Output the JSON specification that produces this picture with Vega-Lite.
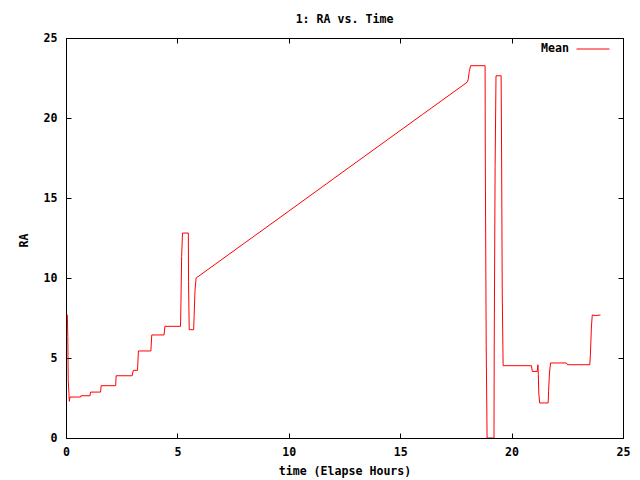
{
  "$schema": "https://vega.github.io/schema/vega-lite/v6.json",
  "width": 557,
  "height": 400,
  "autosize": "none",
  "padding": {"left": 66, "top": 38, "right": 17, "bottom": 42},
  "background": "white",
  "title": {"text": "1: RA vs. Time", "font": "DejaVu Sans Mono", "fontSize": 11.6, "fontWeight": "bold", "color": "black", "offset": 6, "anchor": "middle"},
  "config": {
    "view": {"stroke": "black", "strokeWidth": 1},
    "axis": {"domainColor": "black", "tickColor": "black", "labelColor": "black", "titleColor": "black", "labelFont": "DejaVu Sans Mono", "labelFontSize": 11.6, "labelFontWeight": "bold", "titleFont": "DejaVu Sans Mono", "titleFontSize": 11.6, "titleFontWeight": "bold", "grid": false, "tickSize": -5, "domainWidth": 1, "tickWidth": 1}
  },
  "data": {"values": [
    {"t": 0.06, "v": 7.71, "s": "Mean"},
    {"t": 0.08, "v": 6.35, "s": "Mean"},
    {"t": 0.10, "v": 3.64, "s": "Mean"},
    {"t": 0.15, "v": 2.29, "s": "Mean"},
    {"t": 0.18, "v": 2.56, "s": "Mean"},
    {"t": 0.66, "v": 2.56, "s": "Mean"},
    {"t": 0.67, "v": 2.64, "s": "Mean"},
    {"t": 1.08, "v": 2.64, "s": "Mean"},
    {"t": 1.10, "v": 2.87, "s": "Mean"},
    {"t": 1.55, "v": 2.87, "s": "Mean"},
    {"t": 1.58, "v": 3.27, "s": "Mean"},
    {"t": 2.23, "v": 3.27, "s": "Mean"},
    {"t": 2.25, "v": 3.89, "s": "Mean"},
    {"t": 2.97, "v": 3.89, "s": "Mean"},
    {"t": 3.02, "v": 4.23, "s": "Mean"},
    {"t": 3.21, "v": 4.23, "s": "Mean"},
    {"t": 3.25, "v": 5.44, "s": "Mean"},
    {"t": 3.81, "v": 5.44, "s": "Mean"},
    {"t": 3.85, "v": 6.44, "s": "Mean"},
    {"t": 4.40, "v": 6.44, "s": "Mean"},
    {"t": 4.44, "v": 6.98, "s": "Mean"},
    {"t": 5.14, "v": 6.98, "s": "Mean"},
    {"t": 5.16, "v": 8.48, "s": "Mean"},
    {"t": 5.19, "v": 11.35, "s": "Mean"},
    {"t": 5.23, "v": 12.81, "s": "Mean"},
    {"t": 5.49, "v": 12.81, "s": "Mean"},
    {"t": 5.50, "v": 9.79, "s": "Mean"},
    {"t": 5.53, "v": 6.77, "s": "Mean"},
    {"t": 5.73, "v": 6.77, "s": "Mean"},
    {"t": 5.75, "v": 7.6, "s": "Mean"},
    {"t": 5.79, "v": 9.23, "s": "Mean"},
    {"t": 5.84, "v": 10.0, "s": "Mean"},
    {"t": 8.0, "v": 12.17, "s": "Mean"},
    {"t": 10.0, "v": 14.18, "s": "Mean"},
    {"t": 12.0, "v": 16.2, "s": "Mean"},
    {"t": 14.0, "v": 18.21, "s": "Mean"},
    {"t": 16.0, "v": 20.22, "s": "Mean"},
    {"t": 18.0, "v": 22.23, "s": "Mean"},
    {"t": 18.05, "v": 22.4, "s": "Mean"},
    {"t": 18.1, "v": 22.9, "s": "Mean"},
    {"t": 18.16, "v": 23.27, "s": "Mean"},
    {"t": 18.81, "v": 23.27, "s": "Mean"},
    {"t": 18.82, "v": 17.5, "s": "Mean"},
    {"t": 18.86, "v": 5.83, "s": "Mean"},
    {"t": 18.9, "v": 0.0, "s": "Mean"},
    {"t": 19.21, "v": 0.0, "s": "Mean"},
    {"t": 19.22, "v": 5.7, "s": "Mean"},
    {"t": 19.26, "v": 16.98, "s": "Mean"},
    {"t": 19.3, "v": 22.64, "s": "Mean"},
    {"t": 19.53, "v": 22.64, "s": "Mean"},
    {"t": 19.55, "v": 18.12, "s": "Mean"},
    {"t": 19.58, "v": 9.06, "s": "Mean"},
    {"t": 19.62, "v": 4.52, "s": "Mean"},
    {"t": 20.89, "v": 4.52, "s": "Mean"},
    {"t": 20.93, "v": 4.16, "s": "Mean"},
    {"t": 21.15, "v": 4.16, "s": "Mean"},
    {"t": 21.18, "v": 4.58, "s": "Mean"},
    {"t": 21.2, "v": 3.96, "s": "Mean"},
    {"t": 21.22, "v": 2.81, "s": "Mean"},
    {"t": 21.26, "v": 2.19, "s": "Mean"},
    {"t": 21.64, "v": 2.19, "s": "Mean"},
    {"t": 21.66, "v": 2.92, "s": "Mean"},
    {"t": 21.7, "v": 4.06, "s": "Mean"},
    {"t": 21.75, "v": 4.69, "s": "Mean"},
    {"t": 22.46, "v": 4.69, "s": "Mean"},
    {"t": 22.5, "v": 4.58, "s": "Mean"},
    {"t": 23.51, "v": 4.58, "s": "Mean"},
    {"t": 23.54, "v": 5.31, "s": "Mean"},
    {"t": 23.58, "v": 6.87, "s": "Mean"},
    {"t": 23.62, "v": 7.69, "s": "Mean"},
    {"t": 23.75, "v": 7.65, "s": "Mean"},
    {"t": 23.99, "v": 7.69, "s": "Mean"}
  ]},
  "layer": [
    {
      "mark": {"type": "line", "strokeWidth": 1, "clip": true},
      "encoding": {
        "x": {"field": "t", "type": "quantitative", "scale": {"domain": [0, 25], "nice": false, "zero": false}, "axis": {"values": [0, 5, 10, 15, 20, 25], "title": "time (Elapse Hours)", "labelPadding": 13.5, "titlePadding": 7, "labelFlush": false}},
        "y": {"field": "v", "type": "quantitative", "scale": {"domain": [0, 25], "nice": false}, "axis": {"values": [0, 5, 10, 15, 20, 25], "title": "RA", "titleX": -42, "titleY": 202, "titleAlign": "center", "titleBaseline": "middle", "labelPadding": 14, "labelFlush": false}},
        "color": {"field": "s", "type": "nominal", "scale": {"domain": ["Mean"], "range": ["#ff0000"]}, "legend": {"title": null, "orient": "none", "legendX": 510, "legendY": -6, "symbolType": "stroke", "symbolSize": 1089, "symbolStrokeWidth": 1, "labelOffset": -41, "labelAlign": "right", "labelFont": "DejaVu Sans Mono", "labelFontSize": 11.6, "labelFontWeight": "bold", "labelColor": "black", "padding": 0}}
      }
    },
    {
      "mark": {"type": "line", "opacity": 0},
      "encoding": {
        "x": {"field": "t", "type": "quantitative", "scale": {"domain": [0, 25], "nice": false, "zero": false}, "axis": {"orient": "top", "values": [0, 5, 10, 15, 20, 25], "labels": false, "title": null}},
        "y": {"field": "v", "type": "quantitative", "scale": {"domain": [0, 25], "nice": false}, "axis": {"orient": "right", "values": [0, 5, 10, 15, 20, 25], "labels": false, "title": null}}
      }
    }
  ],
  "resolve": {"axis": {"x": "independent", "y": "independent"}}
}
